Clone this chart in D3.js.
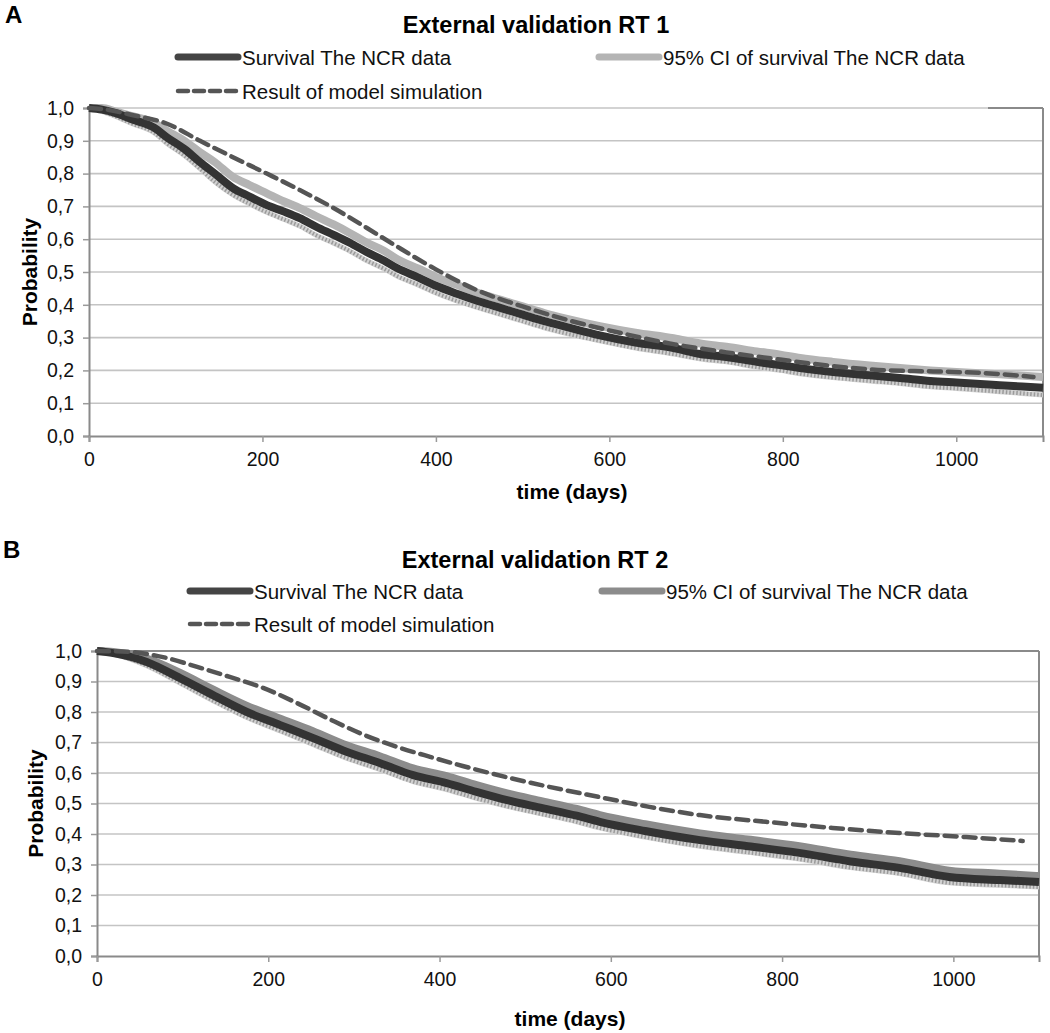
<!DOCTYPE html>
<html><head><meta charset="utf-8">
<script src="https://cdn.jsdelivr.net/npm/d3@7"></script>
<style>body{margin:0;background:#fff}text{font-family:"Liberation Sans",Arial,sans-serif}</style>
</head><body>
<svg id="c" width="1050" height="1033"></svg>
<script>
// ---- Data (days, probability) ----
const yTicks = [0,0.1,0.2,0.3,0.4,0.5,0.6,0.7,0.8,0.9,1.0];
const xTicks = [0,200,400,600,800,1000];
const legendLabels = ["Survival The NCR data","95% CI of survival The NCR data","Result of model simulation"];

// Panel A
const daysA      = [0, 15, 30, 50, 75, 90, 110, 128, 145, 166, 185, 205, 225, 243, 262, 282, 300, 320, 340, 355, 380, 400, 425, 450, 475, 500, 525, 550, 589, 630, 674, 705, 735, 770, 797, 820, 858, 900, 935, 970, 1000, 1050, 1100];
const survivalA  = [1.0, 0.995, 0.985, 0.965, 0.94, 0.91, 0.875, 0.835, 0.80, 0.756, 0.73, 0.704, 0.684, 0.664, 0.638, 0.613, 0.59, 0.561, 0.535, 0.512, 0.483, 0.458, 0.433, 0.41, 0.39, 0.37, 0.35, 0.333, 0.307, 0.285, 0.268, 0.25, 0.241, 0.226, 0.216, 0.207, 0.195, 0.185, 0.177, 0.168, 0.163, 0.155, 0.147];
const upperA     = [1.0, 1.0, 0.99, 0.975, 0.955, 0.93, 0.9, 0.865, 0.835, 0.79, 0.765, 0.74, 0.715, 0.695, 0.67, 0.645, 0.62, 0.59, 0.565, 0.54, 0.51, 0.485, 0.46, 0.435, 0.415, 0.395, 0.375, 0.358, 0.335, 0.315, 0.298, 0.282, 0.272, 0.258, 0.248, 0.238, 0.226, 0.215, 0.207, 0.2, 0.195, 0.188, 0.18];
const lowerA     = [1.0, 0.99, 0.975, 0.952, 0.925, 0.892, 0.855, 0.815, 0.775, 0.735, 0.708, 0.682, 0.66, 0.64, 0.612, 0.588, 0.565, 0.535, 0.51, 0.488, 0.46, 0.436, 0.411, 0.39, 0.37, 0.35, 0.33, 0.313, 0.29, 0.268, 0.25, 0.235, 0.226, 0.21, 0.2, 0.19, 0.178, 0.168, 0.16, 0.15, 0.145, 0.135, 0.125];
const modelDaysA = [0, 20, 51, 90, 128, 166, 205, 243, 282, 320, 355, 400, 447, 500, 550, 608, 674, 735, 797, 858, 920, 973, 1050, 1089];
const modelA     = [1.0, 0.995, 0.978, 0.952, 0.9, 0.85, 0.8, 0.75, 0.695, 0.635, 0.578, 0.508, 0.445, 0.395, 0.355, 0.317, 0.28, 0.255, 0.233, 0.213, 0.2, 0.197, 0.189, 0.18];

// Panel B
const daysB      = [0, 19, 58, 97, 135, 175, 214, 252, 292, 330, 369, 408, 443, 480, 520, 560, 587, 640, 704, 760, 820, 880, 937, 995, 1054, 1100];
const survivalB  = [1.0, 0.993, 0.964, 0.911, 0.856, 0.80, 0.757, 0.715, 0.669, 0.633, 0.593, 0.567, 0.538, 0.51, 0.485, 0.46, 0.44, 0.41, 0.38, 0.36, 0.338, 0.31, 0.289, 0.259, 0.249, 0.243];
const upperB     = [1.0, 0.997, 0.975, 0.928, 0.874, 0.82, 0.778, 0.737, 0.69, 0.655, 0.615, 0.59, 0.56, 0.532, 0.507, 0.482, 0.462, 0.432, 0.402, 0.382, 0.36, 0.332, 0.311, 0.28, 0.27, 0.262];
const lowerB     = [1.0, 0.99, 0.952, 0.895, 0.838, 0.782, 0.738, 0.694, 0.648, 0.612, 0.572, 0.546, 0.517, 0.49, 0.465, 0.44, 0.42, 0.39, 0.36, 0.34, 0.318, 0.29, 0.27, 0.24, 0.232, 0.226];
const modelDaysB = [0, 38, 77, 117, 155, 194, 233, 272, 310, 350, 389, 427, 500, 587, 645, 704, 781, 859, 937, 1015, 1081];
const modelB     = [1.0, 0.997, 0.98, 0.948, 0.915, 0.879, 0.83, 0.776, 0.727, 0.686, 0.653, 0.623, 0.572, 0.521, 0.489, 0.462, 0.44, 0.42, 0.403, 0.39, 0.377];

const svg = d3.select("#c");

function panel(o){
  const g = svg.append("g");
  const x = d3.scaleLinear().domain([0,1100]).range([o.x0,o.x1]);
  const y = d3.scaleLinear().domain([0,1]).range([o.y0,o.y1]);
  // letter and title
  g.append("text").attr("x",o.tagX).attr("y",o.titleY+5).attr("font-size",24).attr("font-weight","bold").text(o.tag);
  g.append("text").attr("x",o.titleX).attr("y",o.titleY+15).attr("text-anchor","middle").attr("font-size",23.5).attr("font-weight","bold").text(o.title);
  // gridlines
  g.append("g").selectAll("line").data(yTicks.filter(t=>t>0)).join("line")
    .attr("x1",o.x0).attr("x2",o.x1).attr("y1",d=>y(d)).attr("y2",d=>y(d))
    .attr("stroke","#c4c4c4").attr("stroke-width",1.6);
  // axes
  const ya = g.append("g").attr("transform",`translate(${o.x0},0)`)
    .call(d3.axisLeft(y).tickValues(yTicks).tickSize(6).tickPadding(9).tickFormat(d=>d3.format(".1f")(d).replace(".",",")));
  const xa = g.append("g").attr("transform",`translate(0,${o.y0})`)
    .call(d3.axisBottom(x).tickValues(xTicks).tickSize(6).tickPadding(10).tickFormat(d3.format("d")));
  [ya,xa].forEach(a=>{
    a.select(".domain").attr("stroke","#8a8a8a").attr("stroke-width",2);
    a.selectAll(".tick line").attr("stroke","#9a9a9a").attr("stroke-width",1.5);
    a.selectAll("text").attr("font-size",19.5).attr("fill","#111").style("font-family","Liberation Sans, Arial, sans-serif");
  });
  // right border (and top for B)
  g.append("line").attr("x1",o.x1).attr("x2",o.x1).attr("y1",o.y1).attr("y2",o.y0).attr("stroke","#8a8a8a").attr("stroke-width",2);
  if(o.topBorder) g.append("line").attr("x1",o.x0).attr("x2",o.x1).attr("y1",o.y1).attr("y2",o.y1).attr("stroke","#8a8a8a").attr("stroke-width",2);
  else g.append("line").attr("x1",o.x1-55).attr("x2",o.x1).attr("y1",o.y1).attr("y2",o.y1).attr("stroke","#8a8a8a").attr("stroke-width",2);
  // axis titles
  g.append("text").attr("transform",`translate(${o.ylabX},${(o.y0+o.y1)/2}) rotate(-90)`).attr("text-anchor","middle")
    .attr("font-size",21).attr("font-weight","bold").text("Probability");
  g.append("text").attr("x",o.xlabX).attr("y",o.y0+o.xlabDY).attr("text-anchor","middle")
    .attr("font-size",21).attr("font-weight","bold").text("time (days)");

  const line = d3.line().x(d=>x(d[0])).y(d=>y(d[1])).curve(d3.curveMonotoneX);
  const zip = (a,b)=>a.map((v,i)=>[v,b[i]]);
  // lower CI: speckled
  g.append("path").attr("d",line(zip(o.days,o.lower))).attr("fill","none").attr("stroke","#d2d2d2").attr("stroke-width",5);
  g.append("path").attr("d",line(zip(o.days,o.lower))).attr("fill","none").attr("stroke","#9a9a9a").attr("stroke-width",4).attr("stroke-dasharray","1.5,2");
  // upper CI
  g.append("path").attr("d",line(zip(o.days,o.upper))).attr("fill","none").attr("stroke",o.ciColor).attr("stroke-width",8).attr("stroke-linejoin","round");
  // survival
  g.append("path").attr("d",line(zip(o.days,o.surv))).attr("fill","none").attr("stroke","#333").attr("stroke-width",8).attr("stroke-linejoin","round");
  // model
  g.append("path").attr("d",line(zip(o.mdays,o.model))).attr("fill","none").attr("stroke","#555").attr("stroke-width",4.5)
    .attr("stroke-dasharray","12,7").attr("stroke-linecap","round");

  // legend
  const L = g.append("g");
  const items = [
    {lx:o.leg1X, ly:o.legY1, label:legendLabels[0], stroke:"#444", w:7, dash:null},
    {lx:o.leg2X, ly:o.legY1, label:legendLabels[1], stroke:o.ciColor, w:7, dash:null},
    {lx:o.leg1X, ly:o.legY2, label:legendLabels[2], stroke:"#555", w:4.5, dash:"10,6"}
  ];
  items.forEach(it=>{
    L.append("line").attr("x1",it.lx).attr("x2",it.lx+60).attr("y1",it.ly).attr("y2",it.ly)
      .attr("stroke",it.stroke).attr("stroke-width",it.w).attr("stroke-linecap","round").attr("stroke-dasharray",it.dash);
    L.append("text").attr("x",it.lx+64).attr("y",it.ly+8).attr("font-size",20.5).attr("fill","#111").text(it.label);
  });
}

panel({tag:"A", tagX:5, title:"External validation RT 1", titleX:536, titleY:18,
  x0:89, x1:1043, y0:436, y1:108, ylabX:37, xlabX:572, xlabDY:63,
  leg1X:178, leg2X:599, legY1:57, legY2:91, ciColor:"#b4b4b4", topBorder:false,
  days:daysA, surv:survivalA, upper:upperA, lower:lowerA, mdays:modelDaysA, model:modelA});
panel({tag:"B", tagX:3, title:"External validation RT 2", titleX:535, titleY:553,
  x0:97, x1:1039, y0:956, y1:651, ylabX:43, xlabX:570, xlabDY:70,
  leg1X:190, leg2X:602, legY1:591, legY2:624, ciColor:"#8c8c8c", topBorder:true,
  days:daysB, surv:survivalB, upper:upperB, lower:lowerB, mdays:modelDaysB, model:modelB});
</script>
</body></html>
